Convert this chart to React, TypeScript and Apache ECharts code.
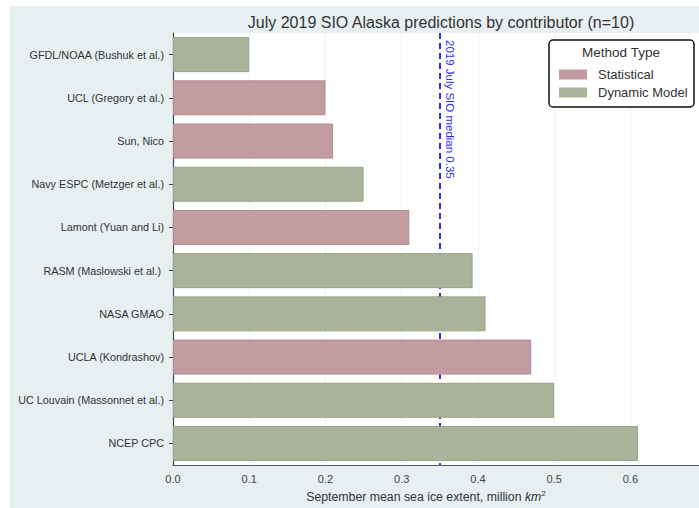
import React, { useEffect, useRef } from "react";
import * as echarts from "echarts";

const contributors = [
  "GFDL/NOAA (Bushuk et al.)",
  "UCL (Gregory et al.)",
  "Sun, Nico",
  "Navy ESPC (Metzger et al.)",
  "Lamont (Yuan and Li)",
  "RASM (Maslowski et al.) ",
  "NASA GMAO",
  "UCLA (Kondrashov)",
  "UC Louvain (Massonnet et al.)",
  "NCEP CPC",
];
const extents = [0.1, 0.2, 0.21, 0.25, 0.31, 0.393, 0.41, 0.47, 0.5, 0.61];
const methods = [
  "Dynamic Model",
  "Statistical",
  "Statistical",
  "Dynamic Model",
  "Statistical",
  "Dynamic Model",
  "Dynamic Model",
  "Statistical",
  "Dynamic Model",
  "Dynamic Model",
];
const methodTypes = ["Statistical", "Dynamic Model"];
const medianValue = 0.35;
const medianLabel = "2019 July SIO median 0.35";
const xTicks = [0, 0.1, 0.2, 0.3, 0.4, 0.5, 0.6];
const titleText = "July 2019 SIO Alaska predictions by contributor (n=10)";

const FONT = "Liberation Sans, Arial, sans-serif";
const colors: Record<string, string> = {
  Statistical: "#c29ca0",
  "Dynamic Model": "#a9b49b",
};
const borders: Record<string, string> = {
  Statistical: "#b08c90",
  "Dynamic Model": "#98a38a",
};

export default function App() {
  const ref = useRef<HTMLDivElement>(null);
  useEffect(() => {
    if (!ref.current) return;
    const chart = echarts.init(ref.current, undefined, { renderer: "svg" });
    const series: any[] = methodTypes.map((m) => ({
      name: m,
      type: "bar",
      stack: "total",
      barWidth: 35,
      z: 3,
      itemStyle: { color: colors[m], borderColor: borders[m], borderWidth: 1 },
      data: extents.map((v, i) => (methods[i] === m ? v : "-")),
    }));
    series.push({
      name: "median",
      type: "line",
      data: [],
      z: 1,
      markLine: {
        silent: true,
        z: 1,
        symbol: "none",
        label: { show: false },
        lineStyle: { color: "#2a2af0", type: [6, 4], width: 2 },
        data: [{ xAxis: medianValue }],
      },
    });
    chart.setOption({
      animation: false,
      backgroundColor: "#e7eff0",
      textStyle: { fontFamily: FONT },
      title: {
        text: titleText,
        left: 436,
        textAlign: "center",
        top: 9,
        textStyle: { fontSize: 16, fontWeight: "normal", color: "#333", fontFamily: FONT },
      },
      grid: {
        left: 173,
        top: 33,
        right: 0,
        bottom: 40,
        show: true,
        backgroundColor: "#ffffff",
        borderWidth: 0,
      },
      legend: {
        data: methodTypes,
        orient: "vertical",
        left: 554,
        top: 63,
        z: 10,
        icon: "rect",
        itemWidth: 28,
        itemHeight: 10,
        itemGap: 5,
        itemStyle: { borderWidth: 0 },
        textStyle: { fontSize: 13, color: "#333", fontFamily: FONT, padding: [0, 0, 0, 6] },
      },
      xAxis: {
        type: "value",
        min: 0,
        max: 0.69,
        interval: 0.1,
        name: "{a|September mean sea ice extent, million }{i|km}{s|2}",
        nameLocation: "middle",
        nameGap: 23,
        nameTextStyle: {
          padding: [0, 20, 0, 0],
          rich: {
            a: { fontSize: 12.3, color: "#333", fontFamily: FONT },
            i: { fontSize: 12.3, color: "#333", fontStyle: "italic", fontFamily: FONT },
            s: { fontSize: 8, color: "#333", verticalAlign: "top", padding: [0, 0, 8, 0], fontFamily: FONT },
          },
        },
        axisLine: { show: true, lineStyle: { color: "#555", width: 1.2 } },
        axisTick: { show: false },
        axisLabel: {
          fontSize: 11,
          color: "#444",
          margin: 8,
          showMaxLabel: false,
          formatter: (v: number) =>
            xTicks.some((t) => Math.abs(t - v) < 1e-6) ? v.toFixed(1) : "",
        },
        splitLine: { show: true, lineStyle: { color: "#edf2f2", width: 1 } },
      },
      yAxis: {
        type: "category",
        inverse: true,
        data: contributors,
        axisLine: { show: true, lineStyle: { color: "#444", width: 1.2 } },
        axisTick: { show: true, alignWithLabel: true, length: 4, lineStyle: { color: "#444" } },
        axisLabel: { fontSize: 10.8, color: "#333", margin: 9 },
        splitLine: { show: false },
      },
      series,
    });
    const px = chart.convertToPixel({ xAxisIndex: 0 }, medianValue) as number;
    chart.setOption({
      graphic: [
        { type: "rect", shape: { x: 0, y: 0, width: 10, height: 508 }, style: { fill: "#ffffff" }, silent: true },
        { type: "rect", shape: { x: 0, y: 0, width: 699, height: 6 }, style: { fill: "#ffffff" }, silent: true },
        {
          type: "text",
          x: px + 4,
          y: 40,
          rotation: -Math.PI / 2,
          style: {
            text: medianLabel,
            fill: "#3030f0",
            fontSize: 11.5,
            fontFamily: FONT,
            align: "left",
            verticalAlign: "bottom",
          },
          z: 100,
        },
        {
          type: "rect",
          shape: { x: 549, y: 40, width: 145, height: 67, r: 4 },
          style: { fill: "#ffffff", stroke: "#111", lineWidth: 1.5 },
          z: 5,
          silent: true,
        },
        {
          type: "text",
          x: 621,
          y: 52,
          style: {
            text: "Method Type",
            fill: "#333",
            fontSize: 13.5,
            fontFamily: FONT,
            align: "center",
            verticalAlign: "middle",
          },
          z: 100,
        },
      ],
    });
    return () => chart.dispose();
  }, []);
  return (
    <div
      ref={ref}
      style={{ position: "absolute", left: 0, top: 0, width: 699, height: 508 }}
    />
  );
}
